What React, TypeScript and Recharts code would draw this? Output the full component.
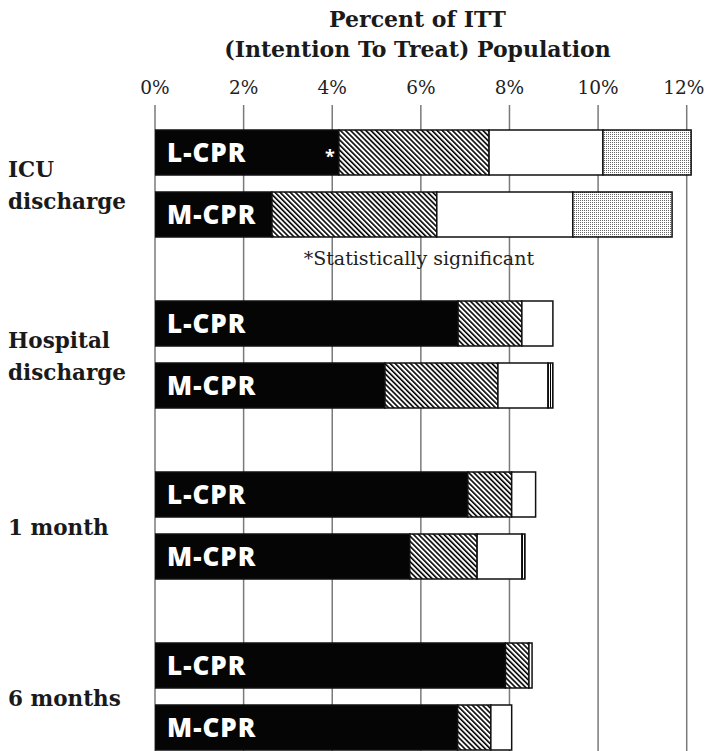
import React from 'react'
import { BarChart, Bar, XAxis, YAxis, CartesianGrid, LabelList, ReferenceDot, Cell } from 'recharts'

const timepoints = ['ICU discharge', 'Hospital discharge', '1 month', '6 months']
const pctTicks = [0, 2, 4, 6, 8, 10, 12]

// stacked bands, % of ITT population
const lcprBlack = [4.15, 6.84, 7.06, 7.91]
const lcprHatch = [3.39, 1.44, 0.99, 0.53]
const lcprWhite = [2.57, 0.7, 0.54, 0.07]
const lcprTail = [1.99, 0, 0, 0]

const mcprBlack = [2.64, 5.19, 5.75, 6.83]
const mcprHatch = [3.72, 2.55, 1.52, 0.75]
const mcprWhite = [3.07, 1.13, 1.01, 0.47]
const mcprTail = [2.24, 0.11, 0.07, 0]

const significant = [true, false, false, false]

const rows = timepoints.map((t, i) => ({
  timepoint: t,
  lBlack: lcprBlack[i],
  lHatch: lcprHatch[i],
  lWhite: lcprWhite[i],
  lTail: lcprTail[i],
  mBlack: mcprBlack[i],
  mHatch: mcprHatch[i],
  mWhite: mcprWhite[i],
  mTail: mcprTail[i],
}))

const serif = '"DejaVu Serif", serif'
const sans = '"Open Sans", sans-serif'
const edge = '#111'

function GroupTick(props: any) {
  const { y, payload } = props
  const words: string[] = payload.value.split(' ')
  const lines = payload.value.includes('discharge') ? [words[0], words.slice(1).join(' ')] : [payload.value]
  const mid = y + 31
  const start = mid - ((lines.length - 1) * 32) / 2 + 9
  return (
    <g>
      {lines.map((ln, k) => (
        <text key={k} x={8} y={start + k * 32} fontFamily={serif} fontWeight={700} fontSize={21.5} fill="#1a1a1a">
          {ln}
        </text>
      ))}
    </g>
  )
}

function PctTick(props: any) {
  const { x, y, payload } = props
  const last = payload.value === pctTicks[pctTicks.length - 1]
  return (
    <text x={x + (last ? -3 : 0)} y={y} textAnchor="middle" fontFamily={serif} fontSize={18.5} fill="#222">
      {`${payload.value}%`}
    </text>
  )
}

function armLabel(name: string, mark: boolean) {
  return (p: any) => {
    const { x, y, width, height, index } = p
    const cy = y + height / 2
    return (
      <g>
        <text x={x + 12} y={cy + 9} fill="#fff" fontFamily={sans} fontWeight={800} fontSize={26} letterSpacing={1}>
          {name}
        </text>
        {mark && significant[index] ? (
          <text x={x + width - 9} y={cy + 10} fill="#fff" fontFamily={sans} fontWeight={700} fontSize={18} textAnchor="middle">
            *
          </text>
        ) : null}
      </g>
    )
  }
}

function Title(p: any) {
  const vb = p.viewBox
  const cx = vb.x + vb.width / 2 - 10
  return (
    <g fontFamily={serif} fontWeight={700} fontSize={22} fill="#1a1a1a" textAnchor="middle">
      <text x={cx} y={27}>Percent of ITT</text>
      <text x={cx} y={57}>(Intention To Treat) Population</text>
    </g>
  )
}

export default function App() {
  return (
    <div style={{ position: 'absolute', left: 0, top: 0, width: 705, height: 751, background: '#fff' }}>
      <BarChart width={705} height={751} data={rows} layout="vertical" margin={{ top: 75, right: 5, bottom: 0, left: 0 }}>
        <defs>
          <pattern id="hatch" width="3.6" height="3.6" patternUnits="userSpaceOnUse" patternTransform="rotate(-45)">
            <rect width="3.6" height="3.6" fill="#fff" />
            <rect width="1.6" height="3.6" fill="#000" />
          </pattern>
          <pattern id="dots" width="2" height="2" patternUnits="userSpaceOnUse">
            <rect width="2" height="2" fill="#fff" />
            <rect width="1" height="1" fill="#666" />
          </pattern>
          <pattern id="vstripes" width="2" height="4" patternUnits="userSpaceOnUse">
            <rect width="2" height="4" fill="#fff" />
            <rect width="1" height="4" fill="#000" />
          </pattern>
        </defs>
        <CartesianGrid horizontal={false} yAxisId="L" stroke="#7a7a7a" strokeWidth={1.5} syncWithTicks />
        <XAxis
          type="number"
          orientation="top"
          domain={[0, 12.3]}
          ticks={pctTicks}
          allowDataOverflow
          axisLine={false}
          tickLine={false}
          tickMargin={5}
          height={30}
          tick={(p: any) => <PctTick {...p} />}
          label={{ content: Title }}
        />
        <YAxis
          yAxisId="L"
          type="category"
          dataKey="timepoint"
          width={155}
          axisLine={false}
          tickLine={false}
          padding={{ top: -38, bottom: 0 }}
          tick={(p: any) => <GroupTick {...p} />}
        />
        <YAxis yAxisId="M" type="category" dataKey="timepoint" hide padding={{ top: 24, bottom: -62 }} />

        <Bar yAxisId="L" dataKey="lBlack" stackId="L" barSize={45} fill="#050505" stroke={edge} strokeWidth={1.5} isAnimationActive={false}>
          <LabelList dataKey="lBlack" content={armLabel('L-CPR', true)} />
        </Bar>
        <Bar yAxisId="L" dataKey="lHatch" stackId="L" barSize={45} fill="url(#hatch)" stroke={edge} strokeWidth={1.5} isAnimationActive={false} />
        <Bar yAxisId="L" dataKey="lWhite" stackId="L" barSize={45} fill="#fff" stroke={edge} strokeWidth={1.5} isAnimationActive={false} />
        <Bar yAxisId="L" dataKey="lTail" stackId="L" barSize={45} stroke={edge} strokeWidth={1.5} isAnimationActive={false}>
          {rows.map((_, i) => (
            <Cell key={i} fill={i === 0 ? 'url(#dots)' : 'url(#vstripes)'} />
          ))}
        </Bar>

        <Bar yAxisId="M" dataKey="mBlack" stackId="M" barSize={45} fill="#050505" stroke={edge} strokeWidth={1.5} isAnimationActive={false}>
          <LabelList dataKey="mBlack" content={armLabel('M-CPR', false)} />
        </Bar>
        <Bar yAxisId="M" dataKey="mHatch" stackId="M" barSize={45} fill="url(#hatch)" stroke={edge} strokeWidth={1.5} isAnimationActive={false} />
        <Bar yAxisId="M" dataKey="mWhite" stackId="M" barSize={45} fill="#fff" stroke={edge} strokeWidth={1.5} isAnimationActive={false} />
        <Bar yAxisId="M" dataKey="mTail" stackId="M" barSize={45} stroke={edge} strokeWidth={1.5} isAnimationActive={false}>
          {rows.map((_, i) => (
            <Cell key={i} fill={i === 0 ? 'url(#dots)' : 'url(#vstripes)'} />
          ))}
        </Bar>

        <ReferenceDot
          yAxisId="M"
          x={6}
          y="ICU discharge"
          r={0}
          ifOverflow="visible"
          shape={(p: any) => (
            <text x={p.cx - 2} y={p.cy + 50} textAnchor="middle" fontFamily={serif} fontSize={19} fill="#222">
              *Statistically significant
            </text>
          )}
        />
      </BarChart>
    </div>
  )
}
